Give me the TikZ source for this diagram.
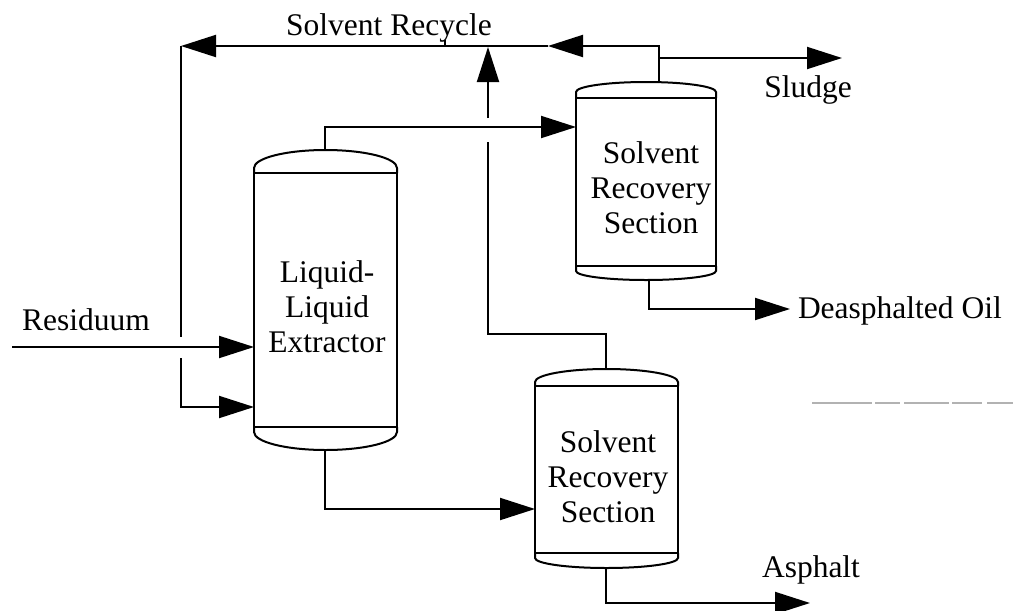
\documentclass[tikz,border=0pt]{standalone}
\usepackage{fontspec}
\setmainfont{Liberation Serif}
\usetikzlibrary{arrows.meta,calc}
\begin{document}
\begin{tikzpicture}[x=1pt,y=-1pt,
  pipe/.style={draw=black, line width=2pt},
  flow/.style={pipe, -{Triangle[length=35pt,width=22pt]}},
  lbl/.style={font=\fontsize{31.5}{35}\selectfont, inner sep=0pt, outer sep=0pt},
  vessel/.style={draw=black, line width=2pt, rectangle, inner sep=0pt, outer sep=0pt},
]
\useasboundingbox (0,0) rectangle (1013,611);
\fill[white] (0,0) rectangle (1013,611);

% vessels (body between the cap lines)
\node[vessel, minimum width=143pt, minimum height=254pt] (ext) at (325.5,300) {};
\node[vessel, minimum width=140pt, minimum height=168pt] (upv) at (646,182) {};
\node[vessel, minimum width=143pt, minimum height=167pt] (lov) at (606.5,469.5) {};

% domes
\draw[pipe] (ext.north west) -- ++(0,-5) arc[start angle=180,end angle=360,x radius=71.5,y radius=18] -- (ext.north east);
\draw[pipe] (ext.south west) -- ++(0,5) arc[start angle=180,end angle=0,x radius=71.5,y radius=18] -- (ext.south east);
\draw[pipe] (upv.north west) -- ++(0,-6) arc[start angle=180,end angle=360,x radius=70,y radius=10] -- (upv.north east);
\draw[pipe] (upv.south west) -- ++(0,5) arc[start angle=180,end angle=0,x radius=70,y radius=9] -- (upv.south east);
\draw[pipe] (lov.north west) -- ++(0,-4) arc[start angle=180,end angle=360,x radius=71.5,y radius=13] -- (lov.north east);
\draw[pipe] (lov.south west) -- ++(0,5) arc[start angle=180,end angle=0,x radius=71.5,y radius=10] -- (lov.south east);

% vessel texts
\node[lbl, align=center] (ext-txt) at (327,307) {Liquid-\\Liquid\\Extractor};
\node[lbl, align=center] (upv-txt) at (651,188) {Solvent\\Recovery\\Section};
\node[lbl, align=center] (lov-txt) at (608,477) {Solvent\\Recovery\\Section};

% stream labels
\node[lbl, anchor=base] (t-rec) at (389,35) {Solvent Recycle};
\node[lbl, anchor=base] (t-res) at (86,330) {Residuum};
\node[lbl, anchor=base] (t-slu) at (808,97) {Sludge};
\node[lbl, anchor=base west] (t-dao) at (798,318) {Deasphalted Oil};
\node[lbl, anchor=base] (t-asp) at (811,577) {Asphalt};

% coordinates of nozzles, bends and free ends
\coordinate (resin) at (12,347);
\coordinate (upt) at (659,83);
\coordinate (rc1) at (548,46);
\coordinate (rcl) at (181,46);
\coordinate (gapA) at (181,337);
\coordinate (gapB) at (181,358);
\coordinate (rcb) at (181,407);
\coordinate (slu0) at (659,58);
\coordinate (slu1) at (842,58);
\coordinate (ext-top) at (325,150);
\coordinate (j1) at (325,127);
\coordinate (ext-bot) at (325,450);
\coordinate (j2) at (325,509);
\coordinate (lot) at (606,369);
\coordinate (j3) at (488,334);
\coordinate (gapC) at (488,142);
\coordinate (gapD) at (488,118);
\coordinate (rtip) at (488,47);
\coordinate (upb) at (649,280);
\coordinate (dao) at (790,309);
\coordinate (lob) at (606,568);
\coordinate (asp) at (810,603);

% feed
\draw[flow] (resin) -- (resin -| ext.west);

% solvent recycle loop
\draw[flow] (upt) |- (rc1);
\draw[flow] (rc1) -- (rcl);
\draw[pipe] (rcl) -- (gapA);
\draw[flow] (gapB) |- (rcb -| ext.west);
\draw[pipe, line width=1.5pt] (445,40) -- (445,46);

% sludge
\draw[flow] (slu0) -- (slu1);

% extract to upper recovery
\draw[flow] (ext-top) -- (j1) -- (j1 -| upv.west);

% raffinate to lower recovery
\draw[flow] (ext-bot) -- (j2) -- (j2 -| lov.west);

% solvent from lower recovery up to recycle
\draw[pipe] (lot) |- (j3) -- (gapC);
\draw[flow] (gapD) -- (rtip);

% products
\draw[flow] (upb) |- (dao);
\draw[flow] (lob) |- (asp);

% faint line at right
\draw[gray!60, line width=1.3pt, dash pattern=on 60pt off 3pt on 25pt off 4pt on 45pt off 3pt on 30pt off 5pt] (812,403) -- (1013,403);
\end{tikzpicture}
\end{document}
